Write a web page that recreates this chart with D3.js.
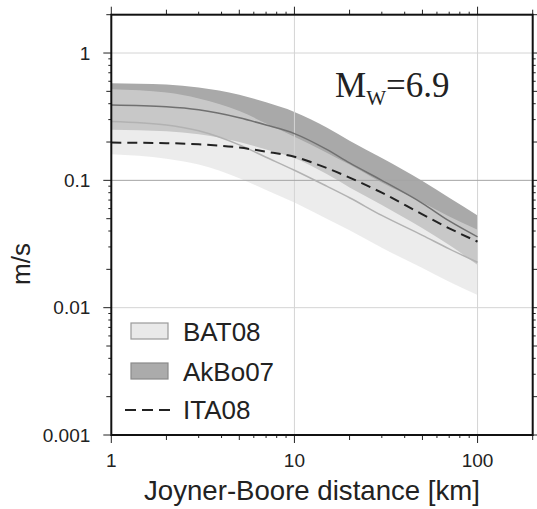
<!DOCTYPE html>
<html>
<head>
<meta charset="utf-8">
<script src="https://cdn.jsdelivr.net/npm/d3@7"></script>
<style>
  body { margin: 0; background: #fff; }
  text { font-family: "Liberation Sans", Arial, sans-serif; fill: #222; }
</style>
</head>
<body>
<script>
// distances (km) at which the curves were read
const distances = [1, 2, 3, 5, 7, 10, 15, 20, 30, 50, 70, 100];

// BAT08 median and +/- sigma band (m/s)
const bat08Mid = [0.29, 0.272, 0.245, 0.19, 0.152, 0.12, 0.09, 0.073, 0.053, 0.037, 0.029, 0.0227];
const bat08Hi  = [0.52, 0.49, 0.44, 0.35, 0.28, 0.22, 0.165, 0.133, 0.096, 0.067, 0.052, 0.041];
const bat08Lo  = [0.16, 0.148, 0.133, 0.104, 0.084, 0.067, 0.05, 0.0405, 0.0295, 0.0205, 0.016, 0.0126];

// AkBo07 median and band
const akbo07Mid = [0.39, 0.378, 0.358, 0.31, 0.272, 0.233, 0.175, 0.137, 0.1, 0.066, 0.048, 0.036];
const akbo07Hi  = [0.58, 0.565, 0.535, 0.47, 0.41, 0.345, 0.26, 0.205, 0.15, 0.099, 0.073, 0.053];
const akbo07Lo  = [0.25, 0.243, 0.23, 0.2, 0.175, 0.15, 0.112, 0.088, 0.064, 0.042, 0.031, 0.0216];

// ITA08 median
const ita08 = [0.198, 0.196, 0.192, 0.181, 0.168, 0.153, 0.125, 0.105, 0.08, 0.054, 0.042, 0.033];

const xMajor = [1, 10, 100];
const yMajor = [0.001, 0.01, 0.1, 1];
const legendNames = ["BAT08", "AkBo07", "ITA08"];

const width = 537, height = 509;
const plotL = 111.3, plotR = 532.7, plotT = 14.7, plotB = 435;

const svg = d3.select("body").append("svg")
  .attr("width", width)
  .attr("height", height);

const x = d3.scaleLog().domain([1, 200]).range([plotL, plotR]);
const y = d3.scaleLog().domain([0.001, 2]).range([plotB, plotT]);

const rows = distances.map((d, i) => ({
  d: d,
  bMid: bat08Mid[i], bHi: bat08Hi[i], bLo: bat08Lo[i],
  aMid: akbo07Mid[i], aHi: akbo07Hi[i], aLo: akbo07Lo[i],
  ita: ita08[i]
}));

const curve = d3.curveMonotoneX;

// bands
const area = (lo, hi) => d3.area()
  .x(r => x(r.d)).y0(r => y(r[lo])).y1(r => y(r[hi])).curve(curve);

svg.append("path").datum(rows)
  .attr("d", area("aLo", "aHi"))
  .attr("fill", "#a9a9a9");

svg.append("path").datum(rows)
  .attr("d", area("bLo", "bHi"))
  .attr("fill", "#dedede")
  .attr("fill-opacity", 0.59);

// grid
svg.append("g").selectAll("line").data(xMajor.filter(v => v > 1)).join("line")
  .attr("x1", d => x(d)).attr("x2", d => x(d))
  .attr("y1", plotT).attr("y2", plotB)
  .attr("stroke", "#d4d4d4").attr("stroke-width", 1);

svg.append("g").selectAll("line").data(yMajor.filter(v => v > 0.001)).join("line")
  .attr("x1", plotL).attr("x2", plotR)
  .attr("y1", d => y(d)).attr("y2", d => y(d))
  .attr("stroke", d => d === 0.1 ? "#a4a4a4" : "#d4d4d4").attr("stroke-width", 1);

// median lines
const line = key => d3.line().x(r => x(r.d)).y(r => y(r[key])).curve(curve);

svg.append("path").datum(rows)
  .attr("d", line("bMid"))
  .attr("fill", "none").attr("stroke", "#b2b2b2").attr("stroke-width", 1.5);

svg.append("path").datum(rows)
  .attr("d", line("aMid"))
  .attr("fill", "none").attr("stroke", "#707070").attr("stroke-width", 1.5);

svg.append("path").datum(rows)
  .attr("d", line("ita"))
  .attr("fill", "none").attr("stroke", "#222").attr("stroke-width", 2)
  .attr("stroke-dasharray", "10,6");

// ticks: long at decades, medium at 2 and 5, short otherwise
function minors(decades, max) {
  const out = [];
  decades.forEach(dec => {
    for (let k = 2; k <= 9; k++) if (k * dec <= max * 1.0001) out.push(k * dec);
  });
  return out;
}
const xMinor = minors(xMajor, 200);
const yMinor = minors(yMajor, 2);

function tickLen(v) {
  const m = Math.round(v / Math.pow(10, Math.floor(Math.log10(v) + 1e-9)));
  if (m === 1) return 8;
  if (m === 2 || m === 5) return 5;
  return 3;
}

const ticks = svg.append("g").attr("stroke", "#222").attr("stroke-width", 1);
xMajor.concat(xMinor).forEach(v => {
  const len = tickLen(v);
  ticks.append("line").attr("x1", x(v)).attr("x2", x(v)).attr("y1", plotB).attr("y2", plotB + len);
  ticks.append("line").attr("x1", x(v)).attr("x2", x(v)).attr("y1", plotT).attr("y2", plotT - len);
});
yMajor.concat(yMinor).forEach(v => {
  const len = tickLen(v);
  ticks.append("line").attr("y1", y(v)).attr("y2", y(v)).attr("x1", plotL).attr("x2", plotL - len);
  ticks.append("line").attr("y1", y(v)).attr("y2", y(v)).attr("x1", plotR).attr("x2", plotR + len);
});

// frame
svg.append("rect")
  .attr("x", plotL).attr("y", plotT)
  .attr("width", plotR - plotL).attr("height", plotB - plotT)
  .attr("fill", "none").attr("stroke", "#111").attr("stroke-width", 2);

// tick labels
svg.append("g").selectAll("text").data(xMajor).join("text")
  .attr("x", d => x(d)).attr("y", plotB + 32)
  .attr("text-anchor", "middle").attr("font-size", 19)
  .text(d => d);

svg.append("g").selectAll("text").data(yMajor).join("text")
  .attr("x", plotL - 21).attr("y", d => y(d))
  .attr("dy", "0.35em")
  .attr("text-anchor", "end").attr("font-size", 19)
  .text(d => d);

// axis titles
svg.append("text")
  .attr("x", 312).attr("y", 500)
  .attr("text-anchor", "middle").attr("font-size", 27.6)
  .text("Joyner-Boore distance [km]");

svg.append("text")
  .attr("transform", "translate(30,264) rotate(-90)")
  .attr("text-anchor", "middle").attr("font-size", 26)
  .text("m/s");

// magnitude label
const mag = svg.append("text")
  .attr("x", 335).attr("y", 97)
  .style("font-family", "'Liberation Serif', 'Times New Roman', serif")
  .attr("font-size", 35);
mag.append("tspan").text("M");
mag.append("tspan").attr("font-size", 21).attr("dy", 8).text("W");
mag.append("tspan").attr("dy", -8).text("=6.9");

// legend
const lg = svg.append("g");
lg.append("rect").attr("x", 131).attr("y", 323).attr("width", 37).attr("height", 16)
  .attr("fill", "#e9e9e9").attr("stroke", "#9a9a9a").attr("stroke-width", 1.2);
lg.append("rect").attr("x", 131).attr("y", 363).attr("width", 37).attr("height", 16)
  .attr("fill", "#ababab").attr("stroke", "#8a8a8a").attr("stroke-width", 1.2);
lg.append("line").attr("x1", 125).attr("x2", 172).attr("y1", 410).attr("y2", 410)
  .attr("stroke", "#222").attr("stroke-width", 2).attr("stroke-dasharray", "11,6");

lg.selectAll("text").data(legendNames).join("text")
  .attr("x", 183).attr("y", (d, i) => [341, 381, 419][i])
  .attr("font-size", 26)
  .text(d => d);
</script>
</body>
</html>
